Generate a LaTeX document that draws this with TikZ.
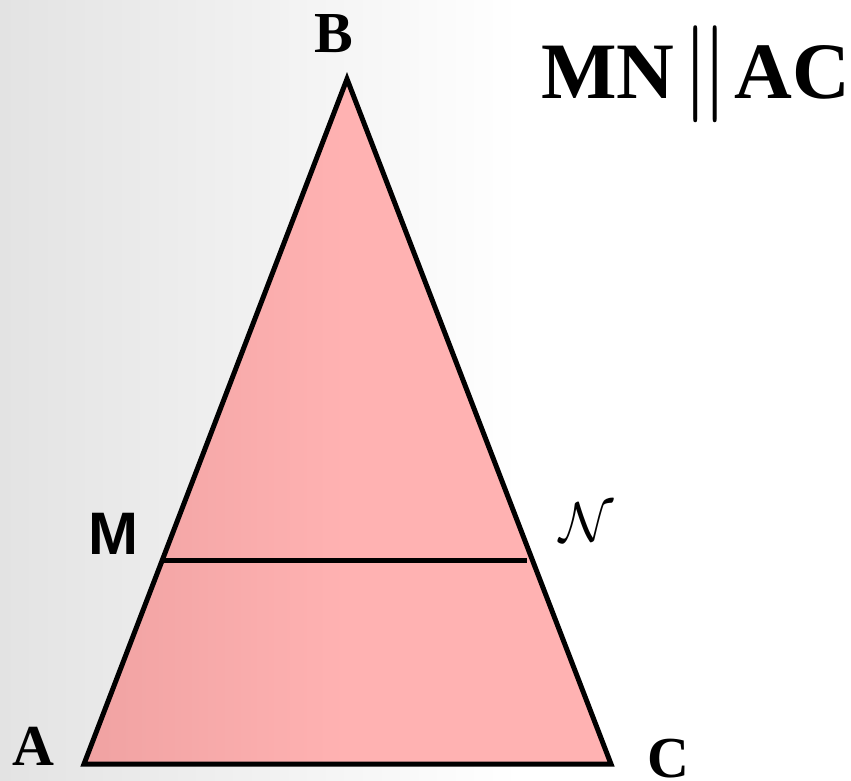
\documentclass[tikz,border=0pt]{standalone}
\usepackage{fontspec}
\setmainfont{Liberation Serif}
\setsansfont{Liberation Sans}
\begin{document}
\begin{tikzpicture}[x=1pt,y=-1pt,
  edge/.style={line width=5pt,line join=miter},
  serlab/.style={inner sep=0pt,anchor=base,font=\fontsize{58}{60}\selectfont\bfseries},
  sanlab/.style={inner sep=0pt,anchor=base,font=\fontsize{60}{62}\selectfont\sffamily\bfseries}]
\useasboundingbox (0,0) rectangle (851,781);
\fill[white] (0,0) rectangle (851,781);
\shade[shading angle=75,left color=black!11,right color=white] (0,0) rectangle (520,781);
\coordinate (B) at (347,79);
\coordinate (A) at (84,764);
\coordinate (C) at (611,764);
\coordinate (M) at (163,560);
\coordinate (N) at (527,560);
\shade[shading angle=60,left color={rgb,255:red,240;green,162;blue,162},right color={rgb,255:red,255;green,178;blue,178},middle color={rgb,255:red,255;green,178;blue,178}] (A) -- (B) -- (C) -- cycle;
\draw[edge] (A) -- (B) -- (C) -- cycle;
\draw[edge] (M) -- (N);
\node[serlab] (lB) at (334,53) {B};
\node[serlab] (lA) at (33,765) {A};
\node[serlab] (lC) at (668,777) {C};
\node[sanlab] (lM) at (113,554) {M};
\node[inner sep=0pt] (lN) at (587,522) {\fontsize{10}{12}\selectfont\scalebox{5.6}{$\mathcal{N}$}};
\node[inner sep=0pt,anchor=base west,font=\fontsize{80}{82}\selectfont\bfseries] (title) at (541,99) {MN\kern6pt{\fontsize{10}{12}\selectfont\scalebox{10}[9.7]{$\|$}}\kern4pt AC};
\end{tikzpicture}
\end{document}
